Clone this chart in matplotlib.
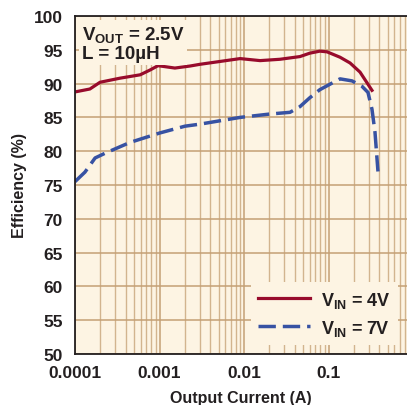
import matplotlib
matplotlib.use("Agg")
from matplotlib import pyplot as plt
from matplotlib.ticker import LogLocator, FixedLocator

# data
i_vin4 = [1.03e-4, 1.5e-4, 1.98e-4, 3.4e-4, 5.9e-4, 7.7e-4, 9.6e-4, 1.52e-3, 2.3e-3, 3.0e-3,
          9.0e-3, 0.0155, 0.0267, 0.046, 0.060, 0.079, 0.096, 0.137, 0.18, 0.236, 0.327]
eff_vin4 = [88.8, 89.2, 90.2, 90.8, 91.3, 92.0, 92.65, 92.3, 92.6, 92.85,
            93.7, 93.4, 93.6, 94.0, 94.5, 94.8, 94.7, 93.9, 93.05, 91.7, 89.0]

i_vin7 = [1.0e-4, 1.31e-4, 1.73e-4, 2.27e-4, 4.48e-4, 1.01e-3, 2.0e-3, 3.0e-3, 9.0e-3, 0.0203,
          0.035, 0.046, 0.060, 0.079, 0.119, 0.137, 0.19, 0.249, 0.293, 0.327, 0.355, 0.385]
eff_vin7 = [75.5, 76.9, 79.0, 79.7, 81.3, 82.7, 83.7, 84.0, 85.0, 85.5,
            85.75, 86.6, 87.9, 89.1, 90.3, 90.7, 90.4, 89.6, 88.7, 86.2, 82.8, 77.0]

xticks = [1e-4, 1e-3, 1e-2, 1e-1]
xlabels = ['0.0001', '0.001', '0.01', '0.1']
yticks = list(range(50, 101, 5))

plt.rcParams['font.family'] = ['Liberation Sans', 'DejaVu Sans']
plt.rcParams['font.weight'] = 'bold'
plt.rcParams['axes.labelweight'] = 'bold'
plt.rcParams['mathtext.fontset'] = 'custom'
plt.rcParams['mathtext.bf'] = 'Liberation Sans:bold'
plt.rcParams['mathtext.rm'] = 'Liberation Sans:bold'

ink = '#231f20'
bg = '#fdf4e3'

fig = plt.figure(figsize=(4.07, 4.06), dpi=100)
ax = fig.add_axes([75/407, 1-355/406, 332/407, 338/406])
ax.set_facecolor(bg)

ax.set_xscale('log')
ax.set_xlim(1e-4, 10**(-4 + 332/84.5))
ax.set_ylim(50, 100)

ax.xaxis.set_major_locator(FixedLocator(xticks))
ax.set_xticklabels(xlabels)
ax.xaxis.set_minor_locator(LogLocator(base=10, subs=range(2, 10)))
ax.xaxis.set_minor_formatter(plt.NullFormatter())
ax.set_yticks(yticks)

ax.grid(True, which='major', color='#c4a075', linewidth=1.1)
ax.grid(True, which='minor', axis='x', color='#d2b48e', linewidth=1.0)
ax.set_axisbelow(True)
ax.tick_params(which='both', length=0, labelsize=12.5, colors=ink)
ax.tick_params(axis='x', pad=8)
ax.tick_params(axis='y', pad=9)

ax.spines['right'].set_visible(False)
for s in ['left', 'top', 'bottom']:
    ax.spines[s].set_color(ink)
    ax.spines[s].set_linewidth(1.3)

ax.plot(i_vin4, eff_vin4, color='#980b2c', linewidth=2.3, label='V$_{\\mathbf{IN}}$ = 4V')
ax.plot(i_vin7, eff_vin7, color='#3752a3', linewidth=2.5, dashes=(5, 2.0), label='V$_{\\mathbf{IN}}$ = 7V')

ax.set_xlabel('Output Current (A)', fontsize=11.5, color=ink, labelpad=7)
ax.set_ylabel('Efficiency (%)', fontsize=11.5, color=ink, labelpad=5)

ax.text(0.02, 0.975, 'V$_{\\mathbf{OUT}}$ = 2.5V\nL = 10µH', transform=ax.transAxes,
        fontsize=13.5, color=ink, va='top', ha='left', linespacing=1.05,
        bbox=dict(facecolor=bg, edgecolor='none', pad=2))

leg = ax.legend(loc='lower right', fontsize=13, frameon=True, handlelength=2.9,
                borderaxespad=0.5, labelspacing=0.45, handletextpad=0.6)
leg.get_frame().set_facecolor(bg)
leg.get_frame().set_edgecolor('none')
leg.get_frame().set_alpha(1)
leg.get_frame().set_boxstyle('square', pad=0)
for t in leg.get_texts():
    t.set_color(ink)

fig.savefig('out.png', dpi=100)
